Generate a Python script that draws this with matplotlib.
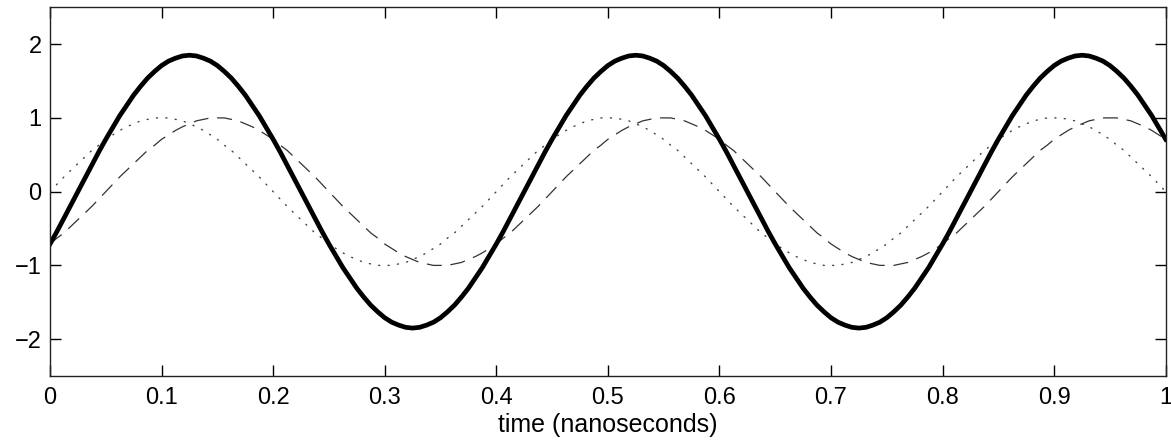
import numpy as np
import matplotlib
matplotlib.use("Agg")
import matplotlib.pyplot as plt

plt.rcParams['font.family'] = ['Liberation Sans', 'DejaVu Sans']

# sample times (ns), every 0.00625 ns
t = np.arange(161) * 0.00625

# values (half periods of each wave)
pos_half = [0.00, 0.10, 0.20, 0.29, 0.38, 0.47, 0.56, 0.63, 0.71, 0.77, 0.83,
            0.88, 0.92, 0.96, 0.98, 1.00, 1.00, 1.00, 0.98, 0.96, 0.92, 0.88,
            0.83, 0.77, 0.71, 0.63, 0.56, 0.47, 0.38, 0.29, 0.20, 0.10]
neg_half = [-v for v in pos_half]
big_pos = [0.00, 0.18, 0.36, 0.54, 0.71, 0.87, 1.03, 1.17, 1.31, 1.43, 1.54,
           1.63, 1.71, 1.77, 1.81, 1.84, 1.85, 1.84, 1.81, 1.77, 1.71, 1.63,
           1.54, 1.43, 1.31, 1.17, 1.03, 0.87, 0.71, 0.54, 0.36, 0.18]
big_neg = [-v for v in big_pos]

dotted_vals = pos_half + neg_half + pos_half + neg_half + pos_half + [0.00]
dashed_vals = (neg_half[24:] + pos_half + neg_half + pos_half + neg_half
               + pos_half[:25])
solid_vals = ([-0.71, -0.54, -0.36, -0.18] + big_pos + big_neg + big_pos
              + big_neg + big_pos[:29])

xticks = [0, 0.1, 0.2, 0.3, 0.4, 0.5, 0.6, 0.7, 0.8, 0.9, 1]
xticklabels = ['0', '0.1', '0.2', '0.3', '0.4', '0.5', '0.6', '0.7', '0.8', '0.9', '1']
yticks = [-2, -1, 0, 1, 2]
yticklabels = ['\u22122', '\u22121', '0', '1', '2']

fig = plt.figure(figsize=(11.71, 4.42), dpi=100)
ax = fig.add_axes([0.0427, 0.1493, 0.9528, 0.8342])

ax.plot(t, dotted_vals, color='#444444', lw=1.0, linestyle=(0, (0.8, 6)),
        dash_capstyle='round')
ax.plot(t, dashed_vals, color='#333333', lw=0.9, linestyle=(0, (12, 7)))
ax.plot(t, solid_vals, color='black', lw=3.4)

ax.set_xlim(0, 1)
ax.set_ylim(-2.5, 2.5)
ax.set_xticks(xticks)
ax.set_xticklabels(xticklabels)
ax.set_yticks(yticks)
ax.set_yticklabels(yticklabels)
ax.tick_params(direction='in', top=True, right=True, length=8, width=1,
               labelsize=17)
ax.tick_params(axis='x', pad=8)
ax.tick_params(axis='y', pad=6)
for s in ax.spines.values():
    s.set_linewidth(1.0)
    s.set_color('#222222')
ax.set_xlabel('time (nanoseconds)', fontsize=18, labelpad=3)

fig.savefig('out.png', dpi=100)
